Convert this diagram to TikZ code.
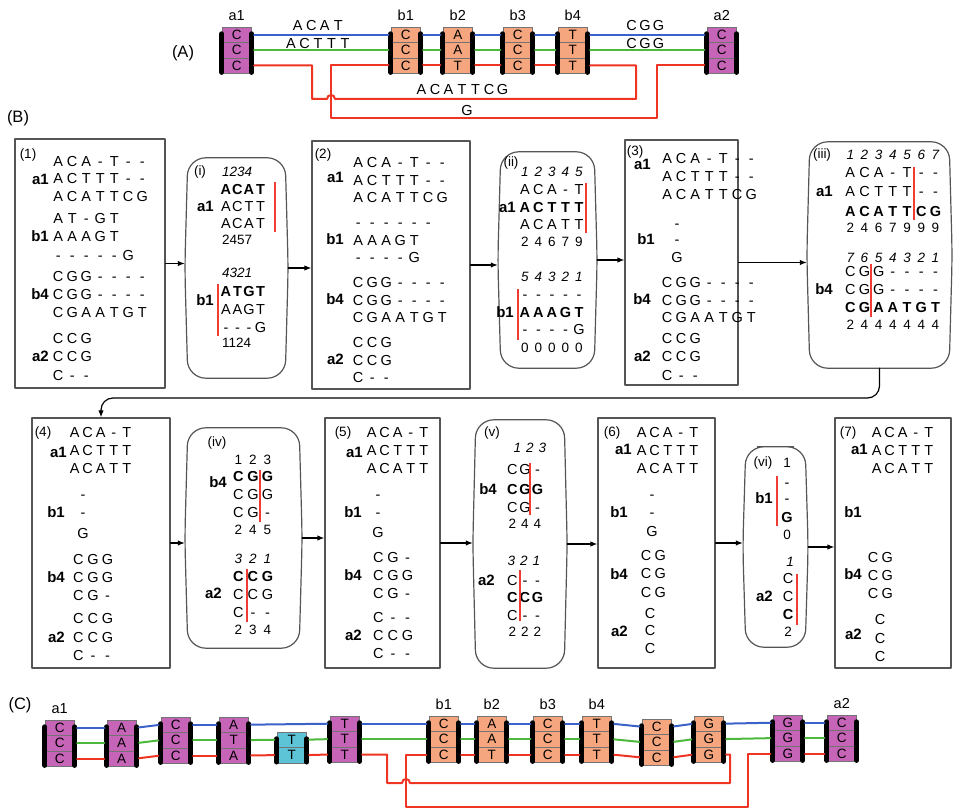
\documentclass[tikz,border=0pt]{standalone}
\usepackage{fontspec}
\setmainfont{Liberation Sans}
\usetikzlibrary{arrows.meta,positioning,fit}

\definecolor{blkpurple}{RGB}{198,100,184}
\definecolor{blkorange}{RGB}{245,166,126}
\definecolor{blkcyan}{RGB}{92,196,214}
\definecolor{lnblue}{RGB}{58,98,200}
\definecolor{lngreen}{RGB}{76,184,60}
\definecolor{lnred}{RGB}{240,52,36}
\definecolor{cutred}{RGB}{240,60,50}
\definecolor{boxgray}{RGB}{85,85,85}

% one letter per column
\newlength\sqw
\newcommand\sq[2][14pt]{\setlength\sqw{#1}\edef\sqtmp{#2}\expandafter\sqloop\sqtmp\relax}
\def\sqloop#1{\ifx#1\relax\else\makebox[\sqw]{#1}\expandafter\sqloop\fi}

% block of cells with the two black bars
\newcommand\blk[5]{%
	\foreach \lt [count=\cnum] in {#5}{
		\node[cell, fill=#4] (#1-\cnum) at (#2+14.75, #3+15.4*\cnum-7.7) {\lt};
		\xdef\ncell{\cnum}
	}
	\draw[bar] ([yshift=-7pt]#1-1.north west) -- ([yshift=1pt]#1-\ncell.south west);
	\draw[bar] ([yshift=-7pt]#1-1.north east) -- ([yshift=1pt]#1-\ncell.south east);
}

% barrel outline of a step box
\newcommand\lensdraw[1]{%
	\draw[lensline] (#1.north) -- ([xshift=-3pt]#1.north east) -- (#1.east) -- ([xshift=-3pt]#1.south east)
	-- ([xshift=3pt]#1.south west) -- (#1.west) -- ([xshift=3pt]#1.north west) -- cycle;
}

\begin{document}
\begin{tikzpicture}[
		x=1pt,
		y=-1pt,
		line cap=round,
		line join=round,
		cell/.style={draw=black!55, line width=0.4pt, minimum width=29.5pt, minimum height=15.4pt, inner sep=0pt, font=\fontsize{13.5}{13.5}\selectfont},
		bar/.style={draw=black, line width=5pt, line cap=round},
		bl/.style={draw=lnblue, line width=2pt, shorten <=2.5pt, shorten >=2.5pt},
		gr/.style={draw=lngreen, line width=2pt, shorten <=2.5pt, shorten >=2.5pt},
		rd/.style={draw=lnred, line width=2pt, shorten <=2.5pt, shorten >=2.5pt},
		toplab/.style={inner sep=0pt, font=\fontsize{14.5}{14.5}\selectfont},
		sect/.style={inner sep=0pt, font=\fontsize{16.5}{16.5}\selectfont},
		panel/.style={draw=boxgray, line width=1.2pt, inner sep=0pt},
		lens/.style={inner sep=0pt},
		lensline/.style={draw=boxgray, line width=1.2pt, rounded corners=18pt},
		seq/.style={anchor=west, inner sep=0pt, text height=10pt, text depth=0pt, font=\fontsize{14.5}{14.5}\selectfont},
		seqb/.style={seq, font=\fontsize{14.5}{14.5}\selectfont\bfseries},
		seqc/.style={seq, anchor=center},
		ch/.style={seq, anchor=center},
		chb/.style={seqb, anchor=center},
		num/.style={anchor=west, inner sep=0pt, text height=9.3pt, text depth=0pt, font=\fontsize{13.5}{13.5}\selectfont},
		numi/.style={num, font=\fontsize{13.5}{13.5}\selectfont\itshape},
		lab/.style={anchor=east, inner sep=0pt, text height=10pt, text depth=0pt, font=\fontsize{15}{15}\selectfont\bfseries},
		tag/.style={inner sep=0pt, font=\fontsize{13.5}{13.5}\selectfont},
		cut/.style={draw=cutred, line width=1.8pt, line cap=butt},
		arr/.style={draw=black, line width=1.2pt, -{Latex[length=7pt,width=5.5pt]}}
		]
		
		\useasboundingbox (0,0) rectangle (954,810);
		
		% ================= (A)
		\node[sect] (labA) at (183,53) {(A)};
		
		\blk{a1}{222}{27}{blkpurple}{C,C,C}
		\blk{b1}{391}{27}{blkorange}{C,C,C}
		\blk{b2}{443}{27}{blkorange}{A,A,T}
		\blk{b3}{503}{27}{blkorange}{C,C,C}
		\blk{b4}{558}{27}{blkorange}{T,T,T}
		\blk{a2}{707}{27}{blkpurple}{C,C,C}
		
		\node[toplab, above=6pt of a1-1] (la1) {a1};
		\node[toplab, above=6pt of b1-1] (lb1) {b1};
		\node[toplab, above=6pt of b2-1] (lb2) {b2};
		\node[toplab, above=6pt of b3-1] (lb3) {b3};
		\node[toplab, above=6pt of b4-1] (lb4) {b4};
		\node[toplab, above=6pt of a2-1] (la2) {a2};
		
		% paths through the blocks
		\draw[bl] (a1-1.east) -- (b1-1.west);
		\draw[gr] (a1-2.east) -- (b1-2.west);
		\foreach \fa/\fb in {b1/b2,b2/b3,b3/b4}{
			\draw[bl] (\fa-1.east) -- (\fb-1.west);
			\draw[gr] (\fa-2.east) -- (\fb-2.west);
			\draw[rd] (\fa-3.east) -- (\fb-3.west);
		}
		\draw[bl] (b4-1.east) -- (a2-1.west);
		\draw[gr] (b4-2.east) -- (a2-2.west);
		\draw[rd] (a1-3.east) -| (312,99) -- (327,99) .. controls (327,93.7) and (335,93.7) .. (335,99) -- (636,99) |- (b4-3.east);
		\draw[rd] (b1-3.west) -| (331,118) -- (657,118) |- (a2-3.west);
		
		\node[seqc] (sA1) at (318,26) {\sq[13.5pt]{ACAT}};
		\node[seqc] (sA2) at (318,44) {\sq[13.5pt]{ACTTT}};
		\node[seqc] (sA3) at (645,26) {\sq[13.5pt]{CGG}};
		\node[seqc] (sA4) at (645,44) {\sq[13.5pt]{CGG}};
		\node[seqc] (sA5) at (462,90) {\sq[13.5pt]{ACATTCG}};
		\node[seqc] (sA6) at (467,111) {G};
		
		% ================= (B)
		\node[sect] (labB) at (18,118) {(B)};
		
		% step boxes
		\node[panel, fit={(15,139) (165,388)}] (p1) {};
		\node[lens, fit={(185,158) (288,378)}] (pi) {};
		\lensdraw{pi}
		\node[panel, fit={(312,141) (470,389)}] (p2) {};
		\node[lens, fit={(498,152) (597,368)}] (pii) {};
		\lensdraw{pii}
		\node[panel, fit={(625,140) (738,385)}] (p3) {};
		\node[lens, fit={(807,142) (952,368)}] (piii) {};
		\lensdraw{piii}
		
		\node[panel, fit={(32,418) (170,668)}] (p4) {};
		\node[lens, fit={(185,428) (302,648)}] (piv) {};
		\lensdraw{piv}
		\node[panel, fit={(325,418) (440,668)}] (p5) {};
		\node[lens, fit={(473,420) (567,668)}] (pv) {};
		\lensdraw{pv}
		\node[panel, fit={(598,418) (715,668)}] (p6) {};
		\node[lens, fit={(743,447) (808,647)}] (pvi) {};
		\lensdraw{pvi}
		\node[panel, fit={(835,418) (951,668)}] (p7) {};
		
		% arrows
		\draw[arr] (p1.east) -- (pi.west |- p1.east);
		\draw[arr] (pi.east) -- (p2.west |- pi.east);
		\draw[arr] (p2.east) -- (pii.west |- p2.east);
		\draw[arr] (pii.east) -- (p3.west |- pii.east);
		\draw[arr] (p3.east) -- (piii.west |- p3.east);
		\coordinate (bend) at (101,398);
		\draw[arr, rounded corners=12pt] (piii.south) |- (bend) -- (p4.north);
		\draw[arr] (p4.east) -- (piv.west |- p4.east);
		\draw[arr] (piv.east) -- (p5.west |- piv.east);
		\draw[arr] (p5.east) -- (pv.west |- p5.east);
		\draw[arr] (pv.east) -- (p6.west |- pv.east);
		\draw[arr] (p6.east) -- (pvi.west |- p6.east);
		\draw[arr] (pvi.east) -- (p7.west |- pvi.east);
		
		% (1)
		\node[tag] (t1) at (28,155) {(1)};
		\foreach \sqs [count=\kk] in {ACA-T--,ACTTT--,ACATTCG}
		\node[seq] (p1a1-\kk) at (51,144+17.5*\kk) {\sq{\sqs}};
		\foreach \sqs [count=\kk] in {AT-GT,AAAGT,-----G}
		\node[seq] (p1b1-\kk) at (51,200+18.5*\kk) {\sq{\sqs}};
		\foreach \sqs [count=\kk] in {CGG----,CGG----,CGAATGT}
		\node[seq] (p1b4-\kk) at (51,259+18*\kk) {\sq{\sqs}};
		\foreach \sqs [count=\kk] in {CCG,CCG,C--}
		\node[seq] (p1a2-\kk) at (51,320+18.5*\kk) {\sq{\sqs}};
		\node[lab] (p1la1) at (49,180) {a1};
		\node[lab] (p1lb1) at (49,237) {b1};
		\node[lab] (p1lb4) at (49,295) {b4};
		\node[lab] (p1la2) at (49,357) {a2};
		
		% (i)
		\node[tag] (ti) at (200,172) {(i)};
		\node[numi] (pin1) at (222,172) {1234};
		\node[seqb] (pia1-1) at (220,190) {\sq[11.5pt]{ACAT}};
		\node[seq] (pia1-2) at (220,207) {\sq[11.5pt]{ACTT}};
		\node[seq] (pia1-3) at (220,224) {\sq[11.5pt]{ACAT}};
		\node[num] (pin2) at (222,240) {2457};
		\node[lab] (pila1) at (214,207) {a1};
		\draw[cut] (275,182) -- (275,232);
		\node[numi] (pin3) at (222,273) {4321};
		\node[seqb] (pib1-1) at (220,292) {\sq[11.5pt]{ATGT}};
		\node[seq] (pib1-2) at (220,310) {\sq[11.5pt]{AAGT}};
		\node[seq] (pib1-3) at (220,328) {\sq[11.5pt]{---G}};
		\node[num] (pin4) at (222,343) {1124};
		\node[lab] (pilb1) at (214,301) {b1};
		\draw[cut] (218,284) -- (218,336);
		
		% (2)
		\node[tag] (t2) at (323,155) {(2)};
		\foreach \sqs [count=\kk] in {ACA-T--,ACTTT--,ACATTCG}
		\node[seq] (p2a1-\kk) at (351,145.5+17.5*\kk) {\sq{\sqs}};
		\foreach \sqs [count=\kk] in {------,AAAGT,----G}
		\node[seq] (p2b1-\kk) at (351,205.5+17.5*\kk) {\sq{\sqs}};
		\foreach \sqs [count=\kk] in {CGG----,CGG----,CGAATGT}
		\node[seq] (p2b4-\kk) at (351,265.5+17.5*\kk) {\sq{\sqs}};
		\foreach \sqs [count=\kk] in {CCG,CCG,C--}
		\node[seq] (p2a2-\kk) at (351,325.5+17.5*\kk) {\sq{\sqs}};
		\node[lab] (p2la1) at (344,178) {a1};
		\node[lab] (p2lb1) at (344,240) {b1};
		\node[lab] (p2lb4) at (344,300) {b4};
		\node[lab] (p2la2) at (344,360) {a2};
		
		% (ii)
		\node[tag] (tii) at (511,163) {(ii)};
		\node[numi] (piin1) at (518,172) {\sq[13.5pt]{12345}};
		\node[seq] (piia1-1) at (518,190) {\sq[13.5pt]{ACA-T}};
		\node[seqb] (piia1-2) at (518,208) {\sq[13.5pt]{ACTTT}};
		\node[seq] (piia1-3) at (518,225) {\sq[13.5pt]{ACATT}};
		\node[num] (piin2) at (518,242) {\sq[13.5pt]{24679}};
		\node[lab] (piila1) at (516,208) {a1};
		\draw[cut] (586,183) -- (586,233);
		\node[numi] (piin3) at (518,277) {\sq[13.5pt]{54321}};
		\node[seq] (piib1-1) at (518,295) {\sq[13.5pt]{-----}};
		\node[seqb] (piib1-2) at (518,313) {\sq[13.5pt]{AAAGT}};
		\node[seq] (piib1-3) at (518,330) {\sq[13.5pt]{----G}};
		\node[num] (piin4) at (518,348) {\sq[13.5pt]{00000}};
		\node[lab] (piilb1) at (514,313) {b1};
		\draw[cut] (518,289) -- (518,340);
		
		% (3)
		\node[tag] (t3) at (635,152) {(3)};
		\foreach \sqs [count=\kk] in {ACA-T--,ACTTT--,ACATTCG}
		\node[seq] (p3a1-\kk) at (660,141+18*\kk) {\sq{\sqs}};
		\node[ch] (p3b1-1) at (677,224) {-};
		\node[ch] (p3b1-2) at (677,240) {-};
		\node[ch] (p3b1-3) at (677,258) {G};
		\foreach \sqs [count=\kk] in {CGG----,CGG----,CGAATGT}
		\node[seq] (p3b4-\kk) at (660,265.5+17.5*\kk) {\sq{\sqs}};
		\foreach \sqs [count=\kk] in {CCG,CCG,C--}
		\node[seq] (p3a2-\kk) at (660,320+18.5*\kk) {\sq{\sqs}};
		\node[lab] (p3la1) at (651,165) {a1};
		\node[lab] (p3lb1) at (655,240) {b1};
		\node[lab] (p3lb4) at (651,300) {b4};
		\node[lab] (p3la2) at (651,357) {a2};
		
		% (iii)
		\node[tag] (tiii) at (822,155) {(iii)};
		\node[numi] (piiin1) at (843,155) {\sq[14.2pt]{1234567}};
		\node[seq] (piiia1-1) at (843,173) {\sq[14.2pt]{ACA-T--}};
		\node[seq] (piiia1-2) at (843,192) {\sq[14.2pt]{ACTTT--}};
		\node[seqb] (piiia1-3) at (843,212) {\sq[14.2pt]{ACATTCG}};
		\node[num] (piiin2) at (843,228) {\sq[14.2pt]{2467999}};
		\node[lab] (piiila1) at (833,192) {a1};
		\draw[cut] (914,167) -- (914,220);
		\node[numi] (piiin3) at (843,258) {\sq[14.2pt]{7654321}};
		\node[seq] (piiib4-1) at (843,272) {\sq[14.2pt]{CGG----}};
		\node[seq] (piiib4-2) at (843,290) {\sq[14.2pt]{CGG----}};
		\node[seqb] (piiib4-3) at (843,308) {\sq[14.2pt]{CGAATGT}};
		\node[num] (piiin4) at (843,325) {\sq[14.2pt]{2444444}};
		\node[lab] (piiilb4) at (833,290) {b4};
		\draw[cut] (871,264) -- (871,317);
		
		% (4)
		\node[tag] (t4) at (43,433) {(4)};
		\foreach \sqs [count=\kk] in {ACA-T,ACTTT,ACATT}
		\node[seq] (p4a1-\kk) at (68,415+18*\kk) {\sq[13pt]{\sqs}};
		\node[ch] (p4b1-1) at (83,495) {-};
		\node[ch] (p4b1-2) at (83,513) {-};
		\node[ch] (p4b1-3) at (83,533) {G};
		\foreach \sqs [count=\kk] in {CGG,CGG,CG-}
		\node[seq] (p4b4-\kk) at (71,541+18*\kk) {\sq[14.5pt]{\sqs}};
		\foreach \sqs [count=\kk] in {CCG,CCG,C--}
		\node[seq] (p4a2-\kk) at (71,600+18.5*\kk) {\sq[14.5pt]{\sqs}};
		\node[lab] (p4la1) at (67,452) {a1};
		\node[lab] (p4lb1) at (65,513) {b1};
		\node[lab] (p4lb4) at (65,577) {b4};
		\node[lab] (p4la2) at (65,637) {a2};
		
		% (iv)
		\node[tag] (tiv) at (217,443) {(iv)};
		\node[num] (pivn1) at (231,460) {\sq[14.5pt]{123}};
		\node[seqb] (pivb4-1) at (231,477) {\sq[14.5pt]{CGG}};
		\node[seq] (pivb4-2) at (231,495) {\sq[14.5pt]{CGG}};
		\node[seq] (pivb4-3) at (231,513) {\sq[14.5pt]{CG-}};
		\node[num] (pivn2) at (231,530) {\sq[14.5pt]{245}};
		\node[lab] (pivlb4) at (227,482) {b4};
		\draw[cut] (260,470) -- (260,522);
		\node[numi] (pivn3) at (231,559) {\sq[14.5pt]{321}};
		\node[seqb] (piva2-1) at (231,576) {\sq[14.5pt]{CCG}};
		\node[seq] (piva2-2) at (231,594) {\sq[14.5pt]{CCG}};
		\node[seq] (piva2-3) at (231,612) {\sq[14.5pt]{C--}};
		\node[num] (pivn4) at (231,630) {\sq[14.5pt]{234}};
		\node[lab] (pivla2) at (222,593) {a2};
		\draw[cut] (247,569) -- (247,622);
		
		% (5)
		\node[tag] (t5) at (343,433) {(5)};
		\foreach \sqs [count=\kk] in {ACA-T,ACTTT,ACATT}
		\node[seq] (p5a1-\kk) at (365,415+18*\kk) {\sq[13pt]{\sqs}};
		\node[ch] (p5b1-1) at (378,495) {-};
		\node[ch] (p5b1-2) at (378,513) {-};
		\node[ch] (p5b1-3) at (378,532) {G};
		\foreach \sqs [count=\kk] in {CG-,CGG,CG-}
		\node[seq] (p5b4-\kk) at (371,539+18*\kk) {\sq[14.5pt]{\sqs}};
		\foreach \sqs [count=\kk] in {C--,CCG,C--}
		\node[seq] (p5a2-\kk) at (371,599+18*\kk) {\sq[14.5pt]{\sqs}};
		\node[lab] (p5la1) at (363,452) {a1};
		\node[lab] (p5lb1) at (362,513) {b1};
		\node[lab] (p5lb4) at (362,575) {b4};
		\node[lab] (p5la2) at (362,635) {a2};
		
		% (v)
		\node[tag] (tv) at (492,433) {(v)};
		\node[numi] (pvn1) at (511,448) {\sq[12.5pt]{123}};
		\node[seq] (pvb4-1) at (506,470) {\sq[12.5pt]{CG-}};
		\node[seqb] (pvb4-2) at (506,489) {\sq[12.5pt]{CGG}};
		\node[seq] (pvb4-3) at (506,507) {\sq[12.5pt]{CG-}};
		\node[num] (pvn2) at (506,524) {\sq[12.5pt]{244}};
		\node[lab] (pvlb4) at (497,489) {b4};
		\draw[cut] (530,463) -- (530,515);
		\node[numi] (pvn3) at (505,561) {\sq[12.5pt]{321}};
		\node[seq] (pva2-1) at (506,580) {\sq[12.5pt]{C--}};
		\node[seqb] (pva2-2) at (506,597) {\sq[12.5pt]{CCG}};
		\node[seq] (pva2-3) at (506,615) {\sq[12.5pt]{C--}};
		\node[num] (pvn4) at (506,632) {\sq[12.5pt]{222}};
		\node[lab] (pvla2) at (495,580) {a2};
		\draw[cut] (520,570) -- (520,621);
		
		% (6)
		\node[tag] (t6) at (612,433) {(6)};
		\foreach \sqs [count=\kk] in {ACA-T,ACTTT,ACATT}
		\node[seq] (p6a1-\kk) at (635,415+18*\kk) {\sq[13pt]{\sqs}};
		\node[ch] (p6b1-1) at (652,495) {-};
		\node[ch] (p6b1-2) at (652,513) {-};
		\node[ch] (p6b1-3) at (652,531) {G};
		\foreach \sqs [count=\kk] in {CG,CG,CG}
		\node[seq] (p6b4-\kk) at (639,536.5+18.5*\kk) {\sq{\sqs}};
		\foreach \sqs [count=\kk] in {C,C,C}
		\node[ch] (p6a2-\kk) at (650,595.5+17.5*\kk) {\sqs};
		\node[lab] (p6la1) at (632,449) {a1};
		\node[lab] (p6lb1) at (628,512) {b1};
		\node[lab] (p6lb4) at (628,574) {b4};
		\node[lab] (p6la2) at (628,631) {a2};
		
		% (vi)
		\node[tag] (tvi) at (763,463) {(vi)};
		\node[num, anchor=center] (pvin1) at (787,463) {1};
		\node[ch] (pvib1-1) at (787,482) {-};
		\node[ch] (pvib1-2) at (787,498) {-};
		\node[chb] (pvib1-3) at (787,517) {G};
		\node[num, anchor=center] (pvin2) at (787,535) {0};
		\node[lab] (pvilb1) at (773,498) {b1};
		\draw[cut] (777,476) -- (777,526);
		\node[numi, anchor=center] (pvin3) at (790,562) {1};
		\node[ch] (pvia2-1) at (788,578) {C};
		\node[ch] (pvia2-2) at (788,596) {C};
		\node[chb] (pvia2-3) at (788,614) {C};
		\node[num, anchor=center] (pvin4) at (788,632) {2};
		\node[lab] (pvila2) at (773,596) {a2};
		\draw[cut] (797,574) -- (797,625);
		
		% (7)
		\node[tag] (t7) at (848,433) {(7)};
		\foreach \sqs [count=\kk] in {ACA-T,ACTTT,ACATT}
		\node[seq] (p7a1-\kk) at (870,415+18*\kk) {\sq[13pt]{\sqs}};
		\foreach \sqs [count=\kk] in {CG,CG,CG}
		\node[seq] (p7b4-\kk) at (866,539+18*\kk) {\sq{\sqs}};
		\foreach \sqs [count=\kk] in {C,C,C}
		\node[ch] (p7a2-\kk) at (880,601+18.5*\kk) {\sqs};
		\node[lab] (p7la1) at (868,450) {a1};
		\node[lab] (p7lb1) at (862,513) {b1};
		\node[lab] (p7lb4) at (862,574) {b4};
		\node[lab] (p7la2) at (862,634) {a2};
		
		% ================= (C)
		\node[sect] (labC) at (20,705) {(C)};
		
		\blk{c1}{45}{720}{blkpurple}{C,C,C}
		\blk{c2}{107}{720}{blkpurple}{A,A,A}
		\blk{c3}{161}{717}{blkpurple}{C,C,C}
		\blk{c4}{219}{717}{blkpurple}{A,T,A}
		\blk{c5}{277}{732}{blkcyan}{T,T}
		\blk{c6}{330}{716}{blkpurple}{T,T,T}
		\blk{cb1}{429}{716}{blkorange}{C,C,C}
		\blk{cb2}{477}{716}{blkorange}{A,A,T}
		\blk{cb3}{533}{716}{blkorange}{C,C,C}
		\blk{cb4}{582}{716}{blkorange}{T,T,T}
		\blk{cC}{642}{719}{blkorange}{C,C,C}
		\blk{cG}{694}{716}{blkorange}{G,G,G}
		\blk{cpG}{773}{715}{blkpurple}{G,G,G}
		\blk{ca2}{827}{715}{blkpurple}{C,C,C}
		
		\node[toplab, above=6pt of c1-1] (lca1) {a1};
		\node[toplab, above=6pt of cb1-1] (lcb1) {b1};
		\node[toplab, above=6pt of cb2-1] (lcb2) {b2};
		\node[toplab, above=6pt of cb3-1] (lcb3) {b3};
		\node[toplab, above=6pt of cb4-1] (lcb4) {b4};
		\node[toplab, above=6pt of ca2-1] (lca2) {a2};
		
		\foreach \fa/\fb in {c1/c2,c2/c3,c3/c4,cb1/cb2,cb2/cb3,cb3/cb4,cb4/cC,cC/cG,cpG/ca2}{
			\draw[bl] (\fa-1.east) -- (\fb-1.west);
			\draw[gr] (\fa-2.east) -- (\fb-2.west);
			\draw[rd] (\fa-3.east) -- (\fb-3.west);
		}
		\draw[bl] (c4-1.east) -- (c6-1.west);
		\draw[gr] (c4-2.east) -- (c5-1.west);
		\draw[rd] (c4-3.east) -- (c5-2.west);
		\draw[gr] (c5-1.east) -- (c6-2.west);
		\draw[rd] (c5-2.east) -- (c6-3.west);
		\draw[bl] (c6-1.east) -- (cb1-1.west);
		\draw[gr] (c6-2.east) -- (cb1-2.west);
		\draw[bl] (cG-1.east) -- (cpG-1.west);
		\draw[gr] (cG-2.east) -- (cpG-2.west);
		\draw[rd] (c6-3.east) -| (387,783) -- (402,783) .. controls (402,777.7) and (410,777.7) .. (410,783) -- (730,783) |- (cG-3.east);
		\draw[rd] (cb1-3.west) -| (406,807) -- (748,807) |- (cpG-3.west);
	\end{tikzpicture}
\end{document}
